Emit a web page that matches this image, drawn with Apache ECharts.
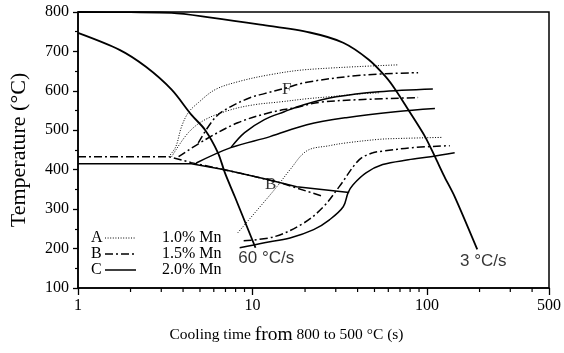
<!DOCTYPE html>
<html><head><meta charset="utf-8">
<script src="https://cdn.jsdelivr.net/npm/echarts@6/dist/echarts.min.js"></script>
<style>html,body{margin:0;padding:0;background:#fff}#c{width:564px;height:353px}</style>
</head><body><div id="c"></div>
<script>
// ---- data ----
const xMinorTicks = [2,3,4,5,6,7,8,9,20,30,40,50,60,70,80,90,200,300,400];
const yMin = 100, yMax = 800, yStep = 100;

// cooling curves
const cool60 = [[1,747],[1.73,704],[2.45,661],[3.44,603],[4.47,539],[5.35,501],[6.34,443],[6.95,392],[7.91,332],[10.4,202]];
const cool3 = [[1,800],[2,799.5],[3.44,798],[5.79,786],[11.1,768],[21.3,748],[33.1,722],[46.4,679],[57.9,636],[65.9,603],[78.1,552],[97.4,484],[111,433],[126,382],[144,332],[194,198]];

// A : 1.0% Mn (dotted)
const aTop = [[3.31,433],[3.63,458],[3.92,509],[4.29,545],[4.89,570],[6.10,603],[8.23,623],[12.6,641],[20.5,654],[68.6,666]];
const aMid = [[3.44,433],[4.29,494],[5.35,527],[7.51,552],[10.3,565],[14.4,572],[20.5,580],[27.6,585],[43.0,593],[52.9,595]];
const aLow = [[8.23,240],[10.7,299],[13.8,357],[16.4,400],[20.5,448],[27.6,461],[34.4,468],[52.9,477],[65.9,479],[122,482]];

// B : 1.5% Mn (dash-dot)
const bBase = [[1,433],[3.31,433],[4.46,418],[9.37,387],[14.4,367],[25.5,332]];
const bTop = [[4.89,468],[6.10,532],[7.51,560],[9.74,583],[11.7,593],[15.2,606],[20.5,622],[43,640],[88.9,646]];
const bMid = [[3.77,433],[5.35,476],[8.23,519],[12.6,545],[17.9,558],[24.2,571],[43,578],[88.9,583]];
const bLow = [[8.9,220],[13.3,230],[19.7,265],[25.5,306],[31.4,357],[40.8,425],[48.9,443],[55.7,447],[82.3,456],[135,461]];

// C : 2.0% Mn (solid)
const cBase = [[1,415],[4.46,415],[6.94,400],[11.7,377],[17.9,357],[35.8,342]];
const cTop = [[7.51,456],[9.01,494],[11.7,527],[15.2,547],[19.7,565],[30.2,585],[52.9,598],[108,605]];
const cMid = [[4.76,417],[7.51,456],[12.6,484],[20.5,514],[34.4,532],[65.9,547],[111,555]];
const cLow = [[8.44,202],[11.7,215],[16.4,227],[22.4,248],[27.6,273],[33.1,306],[35.3,342],[37.7,362],[44.7,392],[55.7,413],[78.1,425],[105,433],[144,443]];

const phaseLabels = [{name:'F', value:[15.7,603]},{name:'B', value:[12.7,362]}];
const rateLabels = [{name:'60 °C/s', value:[12.0,176]},{name:'3 °C/s', value:[210,167]}];
const legendRows = [['A','1.0% Mn','dotted'],['B','1.5% Mn','dashdot'],['C','2.0% Mn','solid']];

// ---- styles ----
const SERIF = '"Liberation Serif","DejaVu Serif",serif';
const SANS = '"Liberation Sans","DejaVu Sans",sans-serif';
const styles = {
  dotted: {type:[1,1.6], width:1},
  dashdot: {type:[8,3,2,3], width:1.5},
  solid: {type:'solid', width:1.5}
};
function ln(data, kind, smooth, width) {
  const s = styles[kind];
  return {type:'line', data, showSymbol:false, symbol:'none', smooth: smooth,
    silent:true, animation:false, clip:true,
    lineStyle:{color:'#000', width: width || s.width, type: s.type, cap:'butt'}};
}

const chart = echarts.init(document.getElementById('c'), null, {renderer:'canvas'});
const series = [
  ln(cool60,'solid',0.3,1.8),
  ln(cool3,'solid',0.3,1.8),
  ln(aTop,'dotted',0.35), ln(aMid,'dotted',0.35), ln(aLow,'dotted',0.35),
  ln(bBase,'dashdot',false), ln(bTop,'dashdot',0.35), ln(bMid,'dashdot',0.35), ln(bLow,'dashdot',0.35),
  ln(cBase,'solid',false), ln(cTop,'solid',0.35), ln(cMid,'solid',0.35), ln(cLow,'solid',0.35),
  {type:'scatter', data: phaseLabels, symbolSize:0, silent:true, animation:false,
    label:{show:true, position:'inside', formatter:'{b}', color:'#000', fontFamily:SERIF, fontSize:17}},
  {type:'scatter', data: rateLabels, symbolSize:0, silent:true, animation:false,
    label:{show:true, position:'inside', formatter:'{b}', color:'#000', fontFamily:SANS, fontSize:17}},
  {type:'custom', data: xMinorTicks.map(v=>[v,yMin]), silent:true, animation:false, clip:false,
    renderItem:function(params, api){
      const p = api.coord([api.value(0), api.value(1)]);
      return {type:'line', shape:{x1:p[0], y1:p[1], x2:p[0], y2:p[1]+4}, style:{stroke:'#000', lineWidth:1.2}};
    }}
];

// legend drawn as graphic (inside the plot, lower left)
const graphic = [];
legendRows.forEach((r,i)=>{
  const y = 238 + i*16;
  graphic.push({type:'text', left:91, top:y-8, style:{text:r[0], font:'16px '+SERIF, fill:'#000'}});
  const s = styles[r[2]];
  graphic.push({type:'line', shape:{x1:105, y1:y, x2:136, y2:y}, style:{stroke:'#000', lineWidth:s.width, lineDash: s.type==='solid'?null:s.type}});
  graphic.push({type:'text', left:162, top:y-8, style:{text:r[1], font:'16px '+SERIF, fill:'#000'}});
});

chart.setOption({
  animation:false,
  backgroundColor:'#fff',
  grid:{left:78, right:8, top:12, bottom:65, show:true, borderColor:'#000', borderWidth:1.5, containLabel:false},
  xAxis:{type:'log', logBase:10, min:1, max:500,
    name:'{a|Cooling time }{b|from}{a| 800 to 500 °C (s)}', nameLocation:'middle', nameGap:37,
    nameTextStyle:{padding:[0,54,0,0], rich:{a:{fontFamily:SERIF, fontSize:15.5, color:'#000'}, b:{fontFamily:SERIF, fontSize:19.5, color:'#000'}}},
    axisLine:{lineStyle:{color:'#000', width:1.5}},
    axisTick:{show:true, inside:false, length:7, lineStyle:{color:'#000', width:1.3}},
    minorTick:{show:false},
    splitLine:{show:false},
    axisLabel:{color:'#000', fontFamily:SERIF, fontSize:16, margin:10, formatter:v=>String(Math.round(v))}
  },
  yAxis:{type:'value', min:yMin, max:yMax, interval:yStep,
    name:'Temperature (°C)', nameLocation:'middle', nameGap:48,
    nameTextStyle:{fontFamily:SERIF, fontSize:22, color:'#000'},
    axisLine:{lineStyle:{color:'#000', width:1.5}},
    axisTick:{show:true, inside:false, length:5, lineStyle:{color:'#000', width:1.3}},
    minorTick:{show:true, splitNumber:2, length:3, lineStyle:{color:'#000', width:1.2}},
    splitLine:{show:false},
    axisLabel:{color:'#000', fontFamily:SERIF, fontSize:16, margin:9}
  },
  series,
  graphic
});
</script></body></html>
